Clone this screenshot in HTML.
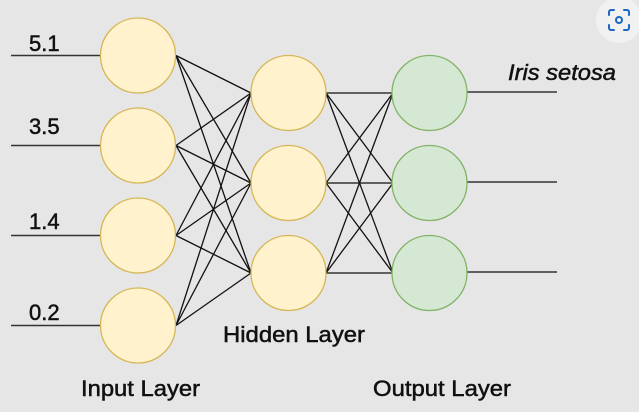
<!DOCTYPE html>
<html><head><meta charset="utf-8"><style>
html,body{margin:0;padding:0;background:#e6e6e6;}
svg{display:block;}
text{font-family:"Liberation Sans",Arial,sans-serif;fill:#111;stroke:#111;stroke-width:0.5;}
</style></head><body>
<svg width="639" height="412" viewBox="0 0 639 412" xmlns="http://www.w3.org/2000/svg">
<rect width="639" height="412" fill="#e6e6e6"/>
<g stroke="#333" stroke-width="1.6" fill="none">
<line x1="11" y1="55.5" x2="100" y2="55.5"/>
<line x1="11" y1="145.5" x2="100" y2="145.5"/>
<line x1="11" y1="235.5" x2="100" y2="235.5"/>
<line x1="11" y1="325.5" x2="100" y2="325.5"/>
<line x1="467" y1="92" x2="557" y2="92"/>
<line x1="467" y1="182" x2="557" y2="182"/>
<line x1="467" y1="272" x2="557" y2="272"/>
</g>
<g stroke="#111" stroke-width="1.3">
<line x1="176" y1="55.5" x2="251" y2="93"/><line x1="176" y1="55.5" x2="251" y2="183"/><line x1="176" y1="55.5" x2="251" y2="273"/>
<line x1="176" y1="145.5" x2="251" y2="93"/><line x1="176" y1="145.5" x2="251" y2="183"/><line x1="176" y1="145.5" x2="251" y2="273"/>
<line x1="176" y1="235.5" x2="251" y2="93"/><line x1="176" y1="235.5" x2="251" y2="183"/><line x1="176" y1="235.5" x2="251" y2="273"/>
<line x1="176" y1="325.5" x2="251" y2="93"/><line x1="176" y1="325.5" x2="251" y2="183"/><line x1="176" y1="325.5" x2="251" y2="273"/>
<line x1="326" y1="93" x2="393" y2="93"/><line x1="326" y1="93" x2="393" y2="183"/><line x1="326" y1="93" x2="393" y2="273"/>
<line x1="326" y1="183" x2="393" y2="93"/><line x1="326" y1="183" x2="393" y2="183"/><line x1="326" y1="183" x2="393" y2="273"/>
<line x1="326" y1="273" x2="393" y2="93"/><line x1="326" y1="273" x2="393" y2="183"/><line x1="326" y1="273" x2="393" y2="273"/>
</g>
<g fill="#fff2cc" stroke="#d6b656" stroke-width="1.3">
<circle cx="138" cy="55.5" r="37.5"/><circle cx="138" cy="145.5" r="37.5"/><circle cx="138" cy="235.5" r="37.5"/><circle cx="138" cy="325.5" r="37.5"/>
<circle cx="288.5" cy="93" r="37.5"/><circle cx="288.5" cy="183" r="37.5"/><circle cx="288.5" cy="273" r="37.5"/>
</g>
<g fill="#d5e8d4" stroke="#82b366" stroke-width="1.3">
<circle cx="429.5" cy="93" r="37.5"/><circle cx="429.5" cy="183" r="37.5"/><circle cx="429.5" cy="273" r="37.5"/>
</g>
<g font-size="22">
<text x="29" y="51">5.1</text>
<text x="29" y="134">3.5</text>
<text x="29" y="229">1.4</text>
<text x="29" y="320">0.2</text>
<text x="508" y="80" font-style="italic" textLength="108" lengthAdjust="spacingAndGlyphs">Iris setosa</text>
<text x="223" y="342" textLength="142" lengthAdjust="spacingAndGlyphs">Hidden Layer</text>
<text x="81" y="396" textLength="119" lengthAdjust="spacingAndGlyphs">Input Layer</text>
<text x="373" y="396" textLength="138" lengthAdjust="spacingAndGlyphs">Output Layer</text>
</g>
<circle cx="619" cy="20" r="23" fill="#f1f1f1"/>
<g stroke="#1a66c9" stroke-width="2" fill="none" stroke-linecap="round">
<path d="M609 15v-3a2 2 0 0 1 2-2h3M624 10h3a2 2 0 0 1 2 2v3M629 25v3a2 2 0 0 1-2 2h-3M614 30h-3a2 2 0 0 1-2-2v-3"/>
<circle cx="619" cy="20" r="3"/>
</g>
</svg>
</body></html>
